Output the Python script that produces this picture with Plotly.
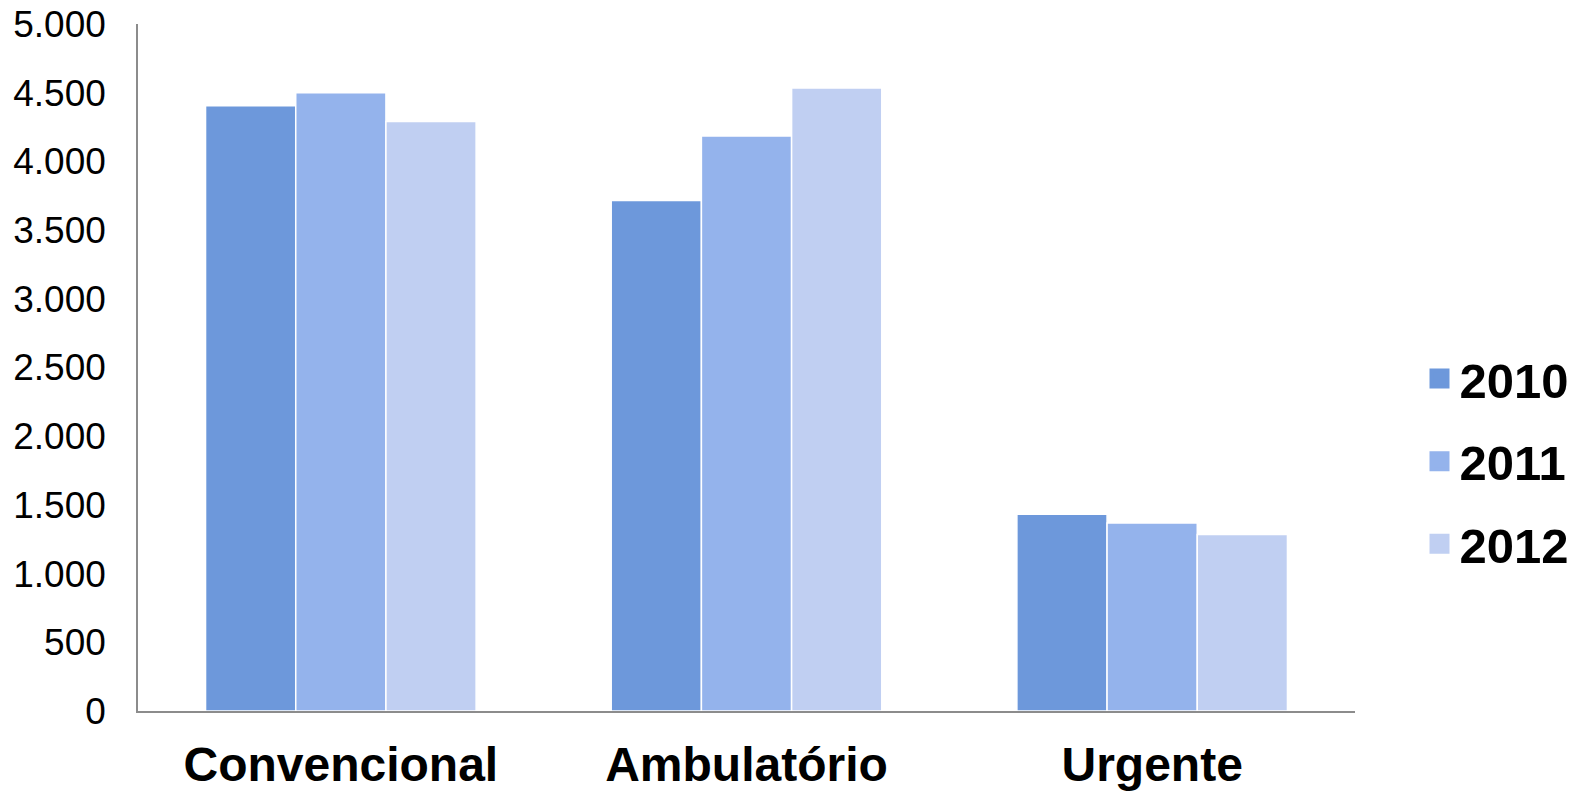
import plotly.graph_objects as go

categories = ["Convencional", "Ambulatório", "Urgente"]
years = ["2010", "2011", "2012"]
values_2010 = [4405, 3715, 1432]
values_2011 = [4500, 4185, 1368]
values_2012 = [4290, 4535, 1285]
tick_values = [0, 500, 1000, 1500, 2000, 2500, 3000, 3500, 4000, 4500, 5000]
colors = ["#6D98DB", "#94B3EC", "#C0CFF2"]

FONT = "Liberation Sans, Arial, sans-serif"

fig = go.Figure()
for name, vals, col in zip(years, [values_2010, values_2011, values_2012], colors):
    fig.add_trace(go.Bar(
        x=categories, y=vals, name=name, legendgroup=name, showlegend=False,
        marker=dict(color=col, line=dict(color="white", width=1.5)),
    ))
for name, col in zip(years, colors):
    fig.add_trace(go.Scatter(
        x=[None], y=[None], mode="markers", name=name, legendgroup=name,
        marker=dict(symbol="square", size=16, color=col, line=dict(color=col, width=4)),
        showlegend=True,
    ))

fig.update_layout(
    width=1572, height=787,
    margin=dict(l=130, r=225, t=16, b=84, autoexpand=False),
    paper_bgcolor="white", plot_bgcolor="white",
    barmode="group", bargap=0.333, bargroupgap=0,
    separators=",.",
    font=dict(family=FONT, color="black"),
    showlegend=True,
    legend=dict(
        x=1.053, xanchor="left", y=0.363, yanchor="middle",
        font=dict(size=49, family=FONT, weight="bold"),
        tracegroupgap=16, bgcolor="rgba(0,0,0,0)", itemsizing="trace",
    ),
)
fig.update_xaxes(
    showline=True, linecolor="#8c8c8c", linewidth=1.5,
    showgrid=False, ticks="", automargin=False,
    tickfont=dict(size=48, family=FONT, weight="bold"),
    ticklabelstandoff=11, ticklabeloverflow="allow",
)
fig.update_yaxes(
    range=[0, 5000], tickvals=tick_values, tickformat=",.0f",
    showline=True, linecolor="#8c8c8c", linewidth=1.5,
    showgrid=False, ticks="", zeroline=False, automargin=False,
    tickfont=dict(size=37, family=FONT),
    ticklabelstandoff=23, ticklabeloverflow="allow",
)

fig.write_html("out.html")
